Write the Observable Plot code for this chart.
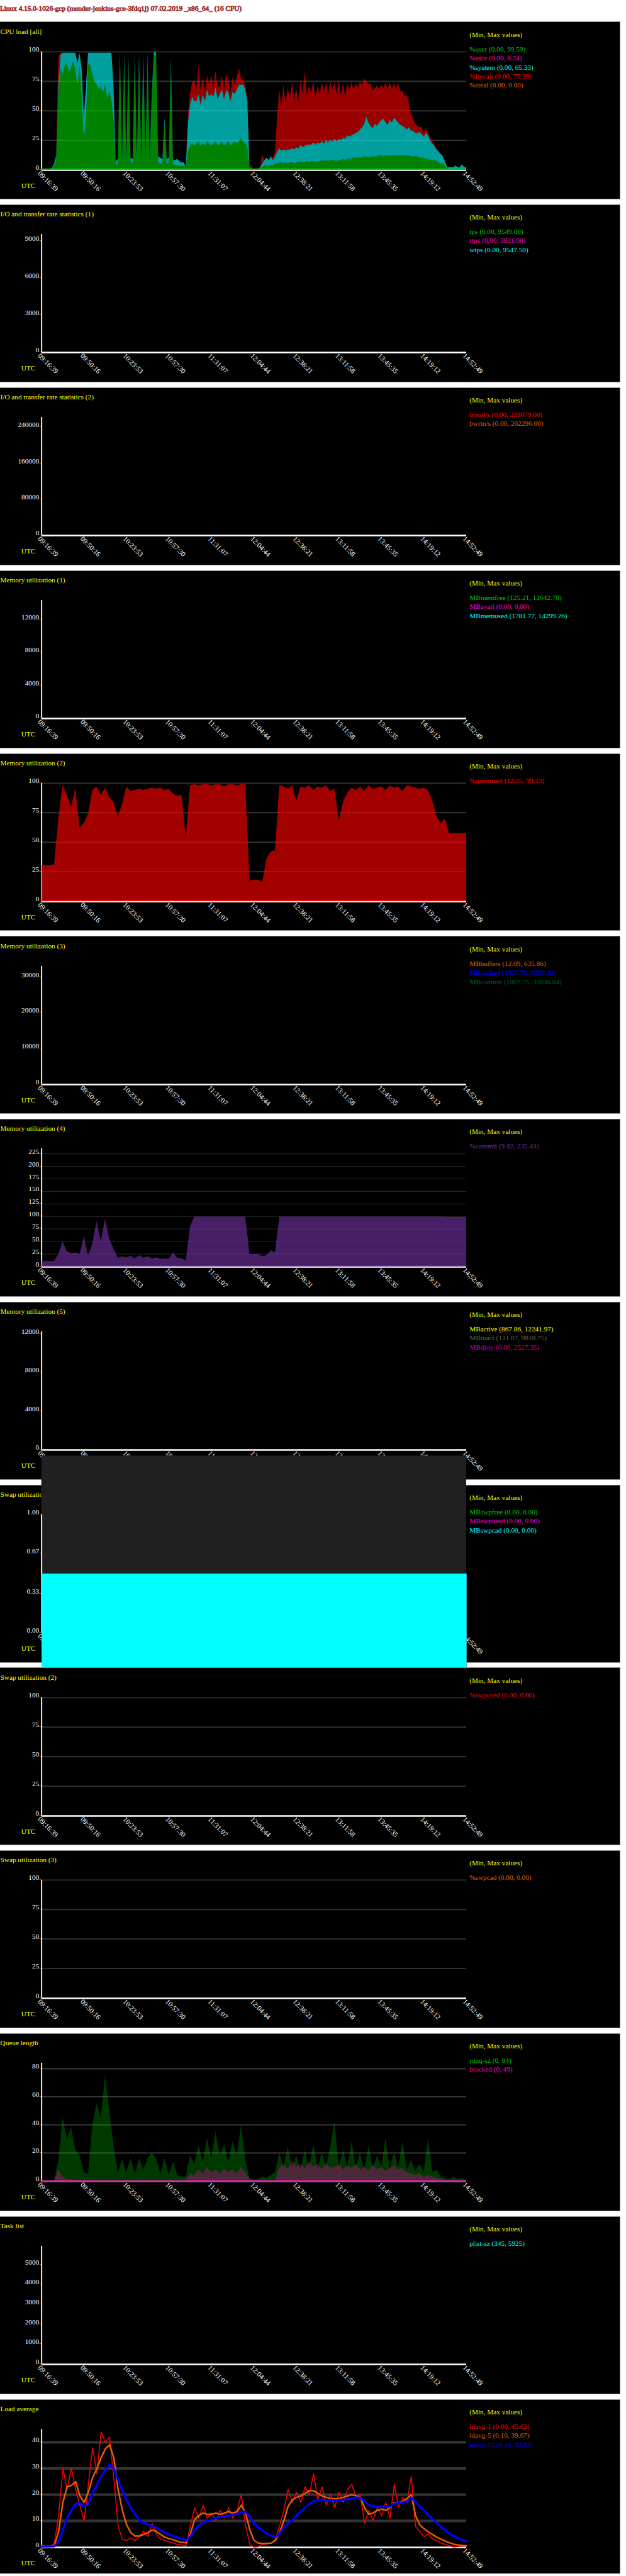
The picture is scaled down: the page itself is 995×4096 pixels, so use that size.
<!DOCTYPE html>
<html><head><meta charset="utf-8">
<script src="https://cdn.jsdelivr.net/npm/d3@7"></script>
<script src="https://cdn.jsdelivr.net/npm/@observablehq/plot@0.6"></script>
<style>
html,body{margin:0;padding:0;background:#fff;}
#root{position:relative;width:995px;height:4092px;overflow:hidden;}
.panel{position:absolute;background:#000;border:1.5px solid #8a8a8a;box-sizing:border-box;}
.panel svg{position:absolute;left:-0.75px;top:-0.75px;}
</style></head><body><div id="root"></div><script>
const S = 0.938;
const START = "2019-02-07T09:16:39Z";
const END = "2019-02-07T14:52:49Z";
const headerText = "Linux 4.15.0-1026-gcp (mender-jenkins-gce-3fdq1j) 07.02.2019 _x86_64_ (16 CPU)";
const timeTickLabels = ["09:16:39","09:50:16","10:23:53","10:57:30","11:31:07","12:04:44","12:38:21","13:11:58","13:45:35","14:19:12","14:52:49"];

// ---- CPU load [all] (201 samples) ----
const cpuUser = [
0.5,0.5,0.5,0.5,0.5,1,
3,8,60,85,80,
88,90,82,86,92,84,70,88,60,25,
40,90,88,80,75,72,68,70,65,72,
60,66,58,40,4,5,95,5,93,6,
90,6,5,92,6,90,6,92,6,94,
6,60,97,96,6,5,5,40,5,5,
90,4,4,4,3,3,3,1,15,20,
22,20,22,24,20,22,20,24,22,20,
22,24,20,22,24,20,22,24,20,22,
24,22,24,26,24,22,18,1,0,0,
0,0,1,2,3,4,3,4,3,5,
5,6,6,5,6,5,6,6,5,6,
6,7,6,6,7,6,7,7,6,7,
7,8,7,8,7,8,8,8,7,8,
8,9,8,9,9,9,10,10,10,10,
10,11,11,10,11,11,11,11,12,12,
11,12,12,12,12,12,12,12,12,12,
12,12,12,11,11,11,11,10,10,10,
9,9,8,8,8,7,6,5,5,3,
0.5,0.5,0.5,0.5,0.5,0.5,0.5,0.5,0.5,0.5];
const cpuSystem = [
0.3,0.3,0.3,0.3,0.3,0.5,
2,4,10,12,19,
11,9,17,13,7,15,20,11,25,20,
30,9,11,19,24,27,31,29,34,27,
39,33,41,30,3,4,5,4,5,4,
5,4,4,6,4,8,5,6,5,5,
5,5,3,3,5,5,4,4,4,5,
5,4,4,5,4,3,3,1,25,35,
40,38,36,40,35,42,38,44,40,44,
40,46,40,42,44,40,45,42,38,44,
40,46,48,46,48,46,40,1,0,0,
0,0,1,3,5,6,5,7,5,6,
10,12,10,12,10,12,11,12,12,13,
12,14,13,14,14,15,14,16,15,16,
15,16,15,17,16,17,16,18,17,18,
17,18,18,20,19,20,20,21,22,24,
26,28,34,30,26,24,28,26,28,30,
32,28,26,30,28,32,30,28,26,25,
24,22,24,22,22,20,20,22,20,18,
22,20,17,14,12,10,9,8,6,4,
1.5,1.5,1.5,1.5,3,1.5,1.5,4,1.5,1.5];
const cpuIowait = [
0,0,0,0,0,0,
0,0,25,2,0,
0,0,0,0,0,0,0,0,0,0,
0,0,0,0,0,0,0,0,0,0,
0,0,0,0,0,0,0,0,0,0,
0,0,0,0,0,0,0,0,0,0,
0,0,0,0,0,0,0,0,0,0,
0,0,0,0,0,0,0,0,5,10,
12,18,10,25,12,15,8,12,10,16,
8,14,10,6,12,8,14,10,6,12,
8,10,14,6,4,4,4,0,3,0,
0,0,0,8,0,0,0,0,2,4,
30,50,38,55,40,52,44,56,42,50,
40,55,45,64,42,50,44,52,40,48,
42,50,45,48,40,50,44,48,40,50,
38,46,36,44,40,45,38,42,38,40,
36,38,30,32,36,32,30,34,28,30,
26,34,30,32,28,30,26,34,28,30,
26,30,20,14,10,8,6,4,6,3,
4,2,3,2,2,1,1,1,1,0,
0,0,0,0,0,0,0,0,0,0];

// ---- Memory utilization (2): %memused (101 samples) ----
const memUsedPct = [
30.4,30.4,30.4,31,70,98,90,80,96,62,
66,74,94,97,90,96,88,84,72,82,
97,93,94,95,94,95,96,95,96,94,
95,91,89,90,54,98,99,98,99,99,
98,99,99,97,99,99,98,99,99,17,
18,18,16,36,42,43,98,97,95,98,
85,97,96,98,94,97,96,98,93,95,
68,84,92,96,94,97,93,98,95,96,
97,94,98,96,97,93,98,97,96,95,
96,94,85,72,66,70,57.4,57.4,57.4,57.4,
57.4];

// ---- Memory utilization (4): %commit (101 samples) ----
const commitPct = [
10.2,10.2,10.3,11,24,50,30,26,28,24,
60,22,45,90,50,95,55,35,17,20,
18,21,16,22,17,20,16,18,15,16,
15,28,17,16,12,80,99.2,99.2,99.2,99.2,
99.2,99.2,99.2,99.2,99.2,99.2,99.2,99.2,99,24.5,
24.4,24.4,20,22,32,28,99.2,99.2,99.2,99.2,
99.2,99.2,99.2,99.2,99.2,99.2,99.2,99.2,99.2,99.2,
99.2,99.2,99.2,99.2,99.2,99.2,99.2,99.2,99.2,99.2,
99.2,99.2,99.2,99.2,99.2,99.2,99.2,99.2,99.2,99.2,
99.2,99.2,99.2,99.2,99.2,98.6,98.6,98.6,98.6,98.6,
98.6];

// ---- Swap utilization (1) (min = max = 0) ----
const swapTimes = ["09:16:39","14:52:49"];
const swpFree = [0,0];
const swpUsed = [0,0];
const swpCad = [0,0];

// ---- Queue length (101 samples) ----
const runqSz = [
0.3,0.3,0.3,0.5,14,45,30,38,22,18,
6,5,40,55,45,75,50,25,6,15,
6,16,5,16,8,16,20,16,5,16,
4,14,4,3,3,18,12,25,14,30,
16,35,18,26,14,28,18,40,15,2,
1,1,3,2,4,6,20,10,24,9,
18,8,22,10,26,9,20,10,24,42,
10,22,9,28,10,20,8,25,9,18,
10,30,9,20,10,28,8,15,7,12,
6,30,6,8,3,2,1,3,1,2,
1];
const blocked = [
0,0,0,0,8,3,1,1,0.5,0.5,
0.3,0.3,0.3,0.3,0.3,0.3,0.3,0.3,0.3,0.3,
0.3,0.3,0.3,0.3,0.3,0.3,0.3,0.3,0.3,0.3,
0.3,0.3,0.3,0.3,0.3,5,4,8,5,10,
6,8,5,9,6,8,5,10,6,1,
0.5,0.5,0.5,0.5,0.5,0.5,10,12,8,15,
10,12,9,14,10,12,8,13,9,10,
12,8,11,9,12,8,10,7,12,8,
10,7,9,11,8,9,6,5,4,5,
3,4,3,2,1,0.3,0.3,0.3,0.3,0.3,
0.3];

// ---- Load average (101 samples) ----
const ldavg1 = [
0.8,0.3,0.2,1.5,12,30,22,30,22,16,
10,24,38,28,44,40,42,26,8,3,
2.5,3.5,2.5,4,6,4,9,5,3,2.5,
2,1.5,1,0.8,0.5,8,15,11,16,11,
13,10,14,11,15,11,14,20,8,1,
0,0.2,1,1.2,1.5,3,8,14,22,17,
21,17,23,20,28,18,23,16,20,15,
21,17,22,24,19,20,9,14,10,15,
12,17,11,24,15,19,17,27,8,6,
4,5,3,2.5,1.5,1,0.5,0,0.2,0.3,
0.3];
const ldavg5 = [
0.3,0.3,0.3,0.5,6,17,23,23.5,25,19.5,
17,21,26.5,30,34,37.5,39,34,22,14,
8.5,5.5,4.2,4.2,4.8,5.5,6.5,6,4.8,3.8,
3.2,2.8,2.2,1.8,1.6,5,10.5,12,13,12.5,
12.5,13,12.5,13,13.5,13,13.5,16,13,6.5,
2.5,1.5,1.4,1.4,1.5,2.5,5.5,10,15.5,18,
19,19.5,20.5,21.5,21.5,20.5,19.5,19,18.5,18.5,
18.5,19,19.5,20,19.5,19,15,12.5,13,14,
14.5,14,15,17,17,17.5,18.5,20,12,8.5,
7,5.8,4.8,3.8,3,2.3,1.6,1.1,0.8,0.6,
0.5];
const ldavg15 = [
0.2,0.2,0.2,0.3,2,6.5,11,14,16.5,16.8,
15.5,16.5,20.5,23.5,27,29.5,31.5,30,25.5,21.5,
18,15,12.5,10.2,9.3,8.6,8,7.4,6.4,5.6,
4.8,4.2,3.7,3.2,2.6,4,6.5,8.3,9.4,10,
10.5,11,11.5,11.8,12,12.3,12.6,13.3,13.5,11.5,
9,7.5,6.2,5.2,4.4,3.8,5,7.5,9,10.2,
12,13.5,15,16.5,17.5,18,18,17.8,18,17.8,
17.6,18,18.3,18.5,19,18.8,17.5,16,15.5,15.2,
15.5,15.3,15.5,16.5,17,17,17.5,18.8,17.2,15.5,
14,12.3,10.8,9.2,7.8,6.3,5.2,4.2,3.4,2.8,
2.3];

// ---- panel titles, legends, colours, ticks ----
const panelTitles = ["CPU load [all]","I/O and transfer rate statistics (1)","I/O and transfer rate statistics (2)",
 "Memory utilization (1)","Memory utilization (2)","Memory utilization (3)","Memory utilization (4)","Memory utilization (5)",
 "Swap utilization (1)","Swap utilization (2)","Swap utilization (3)","Queue length","Task list","Load average"];
const legends = [
 ["%user (0.00, 99.59)","%nice (0.00, 6.24)","%system (0.00, 65.33)","%iowait (0.00, 75.38)","%steal (0.00, 0.00)"],
 ["tps (0.00, 9549.00)","rtps (0.00, 3831.00)","wtps (0.00, 9547.50)"],
 ["bread/s (0.00, 238079.00)","bwrtn/s (0.00, 262296.00)"],
 ["MBmemfree (125.21, 12642.70)","MBavail (0.00, 0.00)","MBmemused (1781.77, 14299.26)"],
 ["%memused (12.35, 99.13)"],
 ["MBbuffers (12.09, 635.86)","MBcached (1007.75, 9930.32)","MBcommit (1007.75, 33036.84)"],
 ["%commit (9.02, 235.43)"],
 ["MBactive (867.86, 12241.97)","MBinact (131.07, 9818.75)","MBdirty (0.00, 2527.35)"],
 ["MBswpfree (0.00, 0.00)","MBswpused (0.00, 0.00)","MBswpcad (0.00, 0.00)"],
 ["%swpused (0.00, 0.00)"],
 ["%swpcad (0.00, 0.00)"],
 ["runq-sz (0, 84)","blocked (0, 49)"],
 ["plist-sz (345, 5925)"],
 ["ldavg-1 (0.00, 45.02)","ldavg-5 (0.10, 39.67)","ldavg-15 (0.16, 32.02)"]];
const legendColors = [
 ["#00cc00","#ff00bf","#00ffff","#ff0000","#e85f00"],
 ["#00cc00","#ff00bf","#00ffff"],
 ["#ff0000","#e85f00"],
 ["#00cc00","#ff00bf","#00ffff"],
 ["#ff0000"],
 ["#e85f00","#0000ff","#006020"],
 ["#7030a0"],
 ["#ffff00","#666635","#d60093"],
 ["#00cc00","#ff00bf","#00ffff"],
 ["#ff0000"],
 ["#e85f00"],
 ["#00cc00","#ff00bf"],
 ["#00ffff"],
 ["#ff0000","#e85f00","#0000ff"]];
const yMax = [100, 9549, 262296, 14299.26, 100, 33036.84, 235.43, 12241.97, 1, 100, 100, 84, 5925, 45.02];
const yTicks = [
 [0,25,50,75,100],[0,3000,6000,9000],[0,80000,160000,240000],[0,4000,8000,12000],[0,25,50,75,100],
 [0,10000,20000,30000],[0,25,50,75,100,125,150,175,200,225],[0,4000,8000,12000],[0,0.33,0.67,1],
 [0,25,50,75,100],[0,25,50,75,100],[0,20,40,60,80],[0,1000,2000,3000,4000,5000],[0,10,20,30,40]];
const yTickLabels = [
 ["0","25","50","75","100"],["0","3000","6000","9000"],["0","80000","160000","240000"],["0","4000","8000","12000"],
 ["0","25","50","75","100"],["0","10000","20000","30000"],["0","25","50","75","100","125","150","175","200","225"],
 ["0","4000","8000","12000"],["0.00","0.33","0.67","1.00"],["0","25","50","75","100"],["0","25","50","75","100"],
 ["0","20","40","60","80"],["0","1000","2000","3000","4000","5000"],["0","10","20","30","40"]];

// ---------------------------------------------------------------
const t0 = new Date(START), t1 = new Date(END);
const xTicks = timeTickLabels.map(s => new Date("2019-02-07T" + s + "Z"));
const sampleTimes = n => d3.range(n).map(i => new Date(+t0 + (t1 - t0) * i / (n - 1)));
const PW = 1050 * S, PH = 300 * S, ML = 70 * S, MR = PW - 790 * S, MT = 50 * S, MB = PH - 250 * S;
const FONT = "'Liberation Serif','Times New Roman',Times,serif";
const YELLOW = "#ffff00";
const root = d3.select("#root");

// header
const hdr = root.append("svg").attr("width", 995).attr("height", 30)
  .style("position", "absolute").style("left", "0px").style("top", "0px");
hdr.append("text").attr("x", 0).attr("y", 18.5 * S)
  .attr("font-family", FONT).attr("font-size", 12 * S)
  .attr("fill", "#1a0000").attr("stroke", "#a52a2a").attr("stroke-width", 0.9 * S)
  .text(headerText);

const cpuRows = sampleTimes(cpuUser.length).map((t, i) => ({t, u: cpuUser[i], s: cpuSystem[i], w: cpuIowait[i]}));
const memRows = sampleTimes(memUsedPct.length).map((t, i) => ({t, v: memUsedPct[i]}));
const comRows = sampleTimes(commitPct.length).map((t, i) => ({t, v: commitPct[i]}));
const swapRows = swapTimes.map((s, i) => ({t: new Date("2019-02-07T" + s + "Z"), free: swpFree[i], used: swpUsed[i], cad: swpCad[i]}));
const qRows = sampleTimes(runqSz.length).map((t, i) => ({t, r: runqSz[i], b: blocked[i]}));
const ldRows = sampleTimes(ldavg1.length).map((t, i) => ({t, l1: ldavg1[i], l5: ldavg5[i], l15: ldavg15[i]}));

function baseLine(color, k) {
  return Plot.ruleY([0], {stroke: color, strokeWidth: k * S, dy: -1 * S});
}

const dataMarks = {
  0: () => [
    Plot.areaY(cpuRows, {x: "t", y1: 0, y2: "u", fill: "#00cc00", fillOpacity: 0.64}),
    Plot.areaY(cpuRows, {x: "t", y1: "u", y2: d => d.u + d.s, fill: "#00ffff", fillOpacity: 0.62}),
    Plot.areaY(cpuRows, {x: "t", y1: d => d.u + d.s, y2: d => d.u + d.s + d.w, fill: "#ff0000", fillOpacity: 0.6}),
    baseLine("#00cc00", 2)],
  4: () => [
    Plot.areaY(memRows, {x: "t", y1: 0, y2: "v", fill: "#ff0000", fillOpacity: 0.64}),
    baseLine("#ff0000", 2)],
  6: () => [
    Plot.areaY(comRows, {x: "t", y1: 0, y2: "v", fill: "#7030a0", fillOpacity: 0.64}),
    baseLine("#7030a0", 1.2)],
  8: () => [
    Plot.lineY(swapRows, {x: "t", y: "free", stroke: "#00cc00", strokeWidth: 200 * S, strokeLinecap: "butt"}),
    Plot.lineY(swapRows, {x: "t", y: "used", stroke: "#ff00bf", strokeWidth: 200 * S, strokeLinecap: "butt"}),
    Plot.lineY(swapRows, {x: "t", y: "cad", stroke: "#00ffff", strokeWidth: 200 * S, strokeLinecap: "butt"})],
  11: () => [
    Plot.areaY(qRows, {x: "t", y1: 0, y2: "r", fill: "#00cc00", fillOpacity: 0.28}),
    Plot.areaY(qRows, {x: "t", y1: 0, y2: "b", fill: "#ff00bf", fillOpacity: 0.3}),
    Plot.ruleY([0], {stroke: "#ff00bf", strokeWidth: 2.4 * S, dy: 0.5 * S})],
  13: () => [
    Plot.lineY(ldRows, {x: "t", y: "l1", stroke: "#ff0000", strokeWidth: 1.6 * S}),
    Plot.lineY(ldRows, {x: "t", y: "l5", stroke: "#e85f00", strokeWidth: 2.6 * S}),
    Plot.lineY(ldRows, {x: "t", y: "l15", stroke: "#0000ff", strokeWidth: 3.6 * S})]
};

panelTitles.forEach((title, k) => {
  const top = (37.5 + 310 * k) * S;
  const div = root.append("div").attr("class", "panel")
    .style("left", "-0.75px").style("top", (top - 0.75) + "px")
    .style("width", (PW + 1.5) + "px").style("height", (PH + 1.5) + "px");
  const ymax = yMax[k];
  const gridW = 200 / ymax * S;
  const marks = [
    Plot.text([title], {frameAnchor: "top-left", dx: -ML, dy: 20 * S - MT, textAnchor: "start", lineAnchor: "bottom", fill: YELLOW}),
    Plot.text(["(Min, Max values)"], {frameAnchor: "top-right", dx: 5 * S, dy: 25 * S - MT, textAnchor: "start", lineAnchor: "bottom", fill: YELLOW}),
    ...legends[k].map((s, i) => Plot.text([s], {frameAnchor: "top-right", dx: 5 * S, dy: 15 * i * S, textAnchor: "start", lineAnchor: "bottom", fill: legendColors[k][i]})),
    Plot.text(["UTC"], {frameAnchor: "bottom-left", dx: (35.5 - 70) * S, dy: 31 * S, textAnchor: "start", lineAnchor: "bottom", fill: YELLOW}),
    Plot.text(yTicks[k], {y: d => d, frameAnchor: "left", dx: -1.2 * S, text: (d, i) => yTickLabels[k][i] + ".", textAnchor: "end", lineAnchor: "bottom", fill: "#ffffff"}),
    Plot.text(xTicks, {x: d => d, frameAnchor: "bottom", text: (d, i) => timeTickLabels[i], rotate: 45, textAnchor: "start", lineAnchor: "bottom", dx: -7 * S, dy: 7 * S, fill: "#ffffff"}),
    Plot.ruleY(yTicks[k].filter(d => d > 0), {stroke: k === 8 ? "#202020" : "#333333", strokeWidth: gridW}),
    Plot.ruleX([t0], {stroke: "#ffffff", strokeWidth: 2 * S}),
    Plot.ruleY([0], {stroke: "#ffffff", strokeWidth: 2.5 * S, dy: 0.5 * S}),
    ...(dataMarks[k] ? dataMarks[k]() : [])
  ];
  const svg = Plot.plot({
    width: PW, height: PH,
    marginLeft: ML, marginRight: MR, marginTop: MT, marginBottom: MB,
    x: {type: "utc", domain: [t0, t1], axis: null},
    y: {type: "linear", domain: [0, ymax], axis: null},
    style: {background: "transparent", overflow: "visible", maxWidth: "none", fontFamily: FONT, fontSize: (12 * S) + "px"},
    marks
  });
  div.node().appendChild(svg);
});
</script></body></html>
